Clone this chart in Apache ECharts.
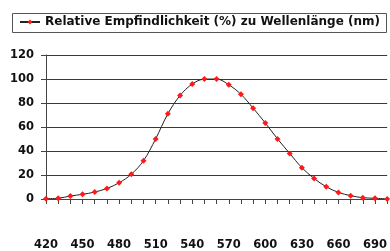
<!DOCTYPE html>
<html><head><meta charset="utf-8">
<script src="https://cdn.jsdelivr.net/npm/echarts@6/dist/echarts.min.js"></script>
<style>html,body{margin:0;padding:0;background:#fff}#c{width:390px;height:251px}</style>
</head><body><div id="c"></div>
<script>
var wavelengths = ['420','430','440','450','460','470','480','490','500','510','520','530','540','550','560','570','580','590','600','610','620','630','640','650','660','670','680','690','700'];
var sensitivity = [0.3, 0.6, 2.5, 3.9, 5.8, 8.8, 13.5, 20.6, 31.9, 50.1, 71, 86.2, 95.8, 99.9, 100, 95.2, 87.2, 75.7, 63.3, 50.1, 38, 26.1, 17.1, 10.2, 5.5, 2.8, 1.1, 0.6, 0.1];
var yTicks = [0, 20, 40, 60, 80, 100, 120];
var seriesName = 'Relative Empfindlichkeit (%) zu Wellenlänge (nm)';
var FONT = 'DejaVu Sans, Verdana, sans-serif';

var chart = echarts.init(document.getElementById('c'), null, {renderer: 'canvas'});
chart.setOption({
  animation: false,
  textStyle: {fontFamily: FONT},
  graphic: [{
    type: 'rect', shape: {x: 12.5, y: 13.5, width: 374, height: 19},
    style: {fill: 'none', stroke: '#555', lineWidth: 1}, z: 0
  }],
  legend: {
    left: 19, top: 16, padding: 0, itemWidth: 20, itemHeight: 6, itemGap: 3,
    textStyle: {fontSize: 12, fontWeight: 'bold', color: '#111', fontFamily: FONT},
    data: [seriesName]
  },
  grid: {left: 46, right: 2, top: 55, bottom: 51, containLabel: false},
  xAxis: {
    type: 'category', data: wavelengths, boundaryGap: false,
    axisLine: {lineStyle: {color: '#444', width: 1}},
    axisTick: {show: true, interval: 0, length: 5, lineStyle: {color: '#444'}},
    axisLabel: {interval: 2, margin: 40, fontSize: 11.5, fontWeight: 'bold', color: '#111', fontFamily: FONT},
    splitLine: {show: false}
  },
  yAxis: {
    type: 'value', min: yTicks[0], max: yTicks[yTicks.length - 1], interval: 20,
    axisLine: {show: true, lineStyle: {color: '#444', width: 1}},
    axisTick: {show: true, length: 5, lineStyle: {color: '#444'}},
    axisLabel: {margin: 12, fontSize: 11.5, fontWeight: 'bold', color: '#111', fontFamily: FONT},
    splitLine: {show: true, lineStyle: {color: '#3a3a3a', width: 1}}
  },
  series: [{
    name: seriesName, type: 'line', data: sensitivity, smooth: 0.35,
    symbol: 'diamond', symbolSize: 6, showAllSymbol: true,
    lineStyle: {color: '#222', width: 1},
    itemStyle: {color: '#ff1a1a', borderWidth: 0}
  }]
});
</script></body></html>
